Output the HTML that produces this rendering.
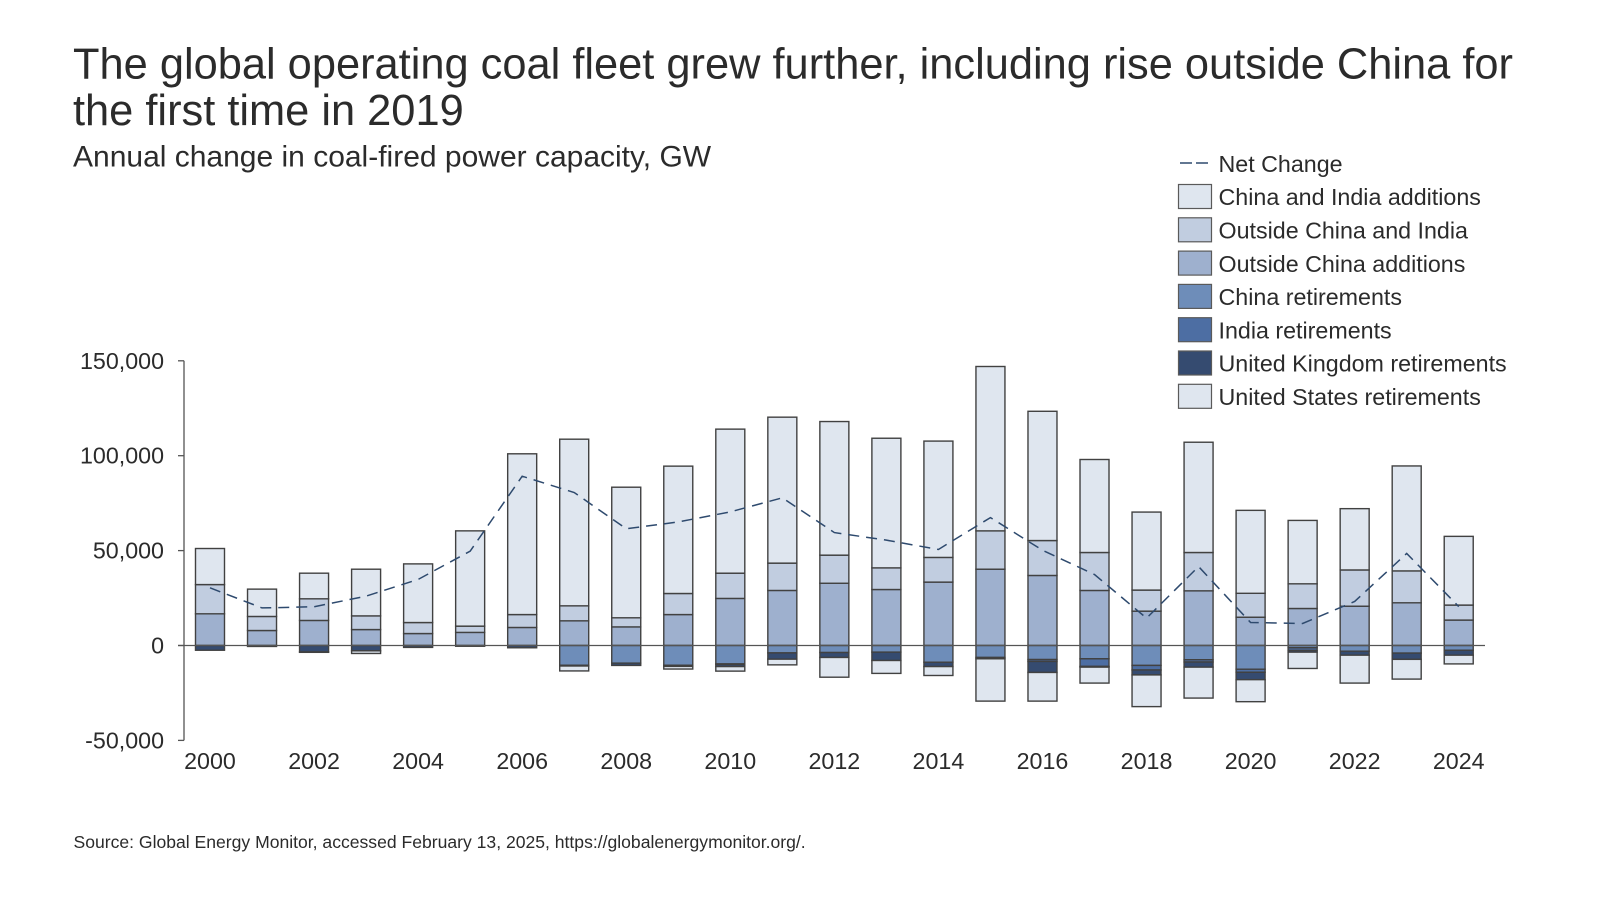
<!DOCTYPE html>
<html lang="en">
<head>
<meta charset="utf-8">
<title>Global operating coal fleet</title>
<style>
html,body{margin:0;padding:0;background:#fff;width:1600px;height:900px;overflow:hidden}
svg{display:block}
text{font-family:"Liberation Sans",sans-serif;fill:#2b2b2b}
</style>
</head>
<body>
<svg id="chart" width="1600" height="900" viewBox="0 0 1600 900" xmlns="http://www.w3.org/2000/svg">
  <rect width="1600" height="900" fill="#fff"/>
  <text x="73" y="78.5" font-size="43.4">The global operating coal fleet grew further, including rise outside China for</text>
  <text x="73" y="124.8" font-size="43.4">the first time in 2019</text>
  <text x="73" y="166.5" font-size="30">Annual change in coal-fired power capacity, GW</text>
  <text x="73.5" y="848" font-size="17.57">Source: Global Energy Monitor, accessed February 13, 2025, https://globalenergymonitor.org/.</text>
  <g id="bars"></g>
  <g id="axes"></g>
  <g id="net"></g>
  <g id="legend"></g>
</svg>
<script>
const years = [2000,2001,2002,2003,2004,2005,2006,2007,2008,2009,2010,2011,2012,2013,2014,2015,2016,2017,2018,2019,2020,2021,2022,2023,2024];
const outsideChinaAdditions = [16700,7900,13200,8400,6300,6900,9500,13000,9800,16300,24800,29000,32800,29500,33400,40200,36900,29000,18100,28800,14900,19500,20700,22500,13400];
const outsideChinaAndIndia = [15400,7400,11400,7200,5800,3300,6800,7900,4800,11100,13300,14400,14800,11400,13000,20200,18400,20000,11100,20200,12600,13000,19100,16800,7900];
const chinaAndIndiaAdditions = [19000,14400,13500,24600,30900,50200,84700,87800,68800,67100,75900,76900,70400,68300,61300,86600,68100,49000,41100,58100,43700,33400,32300,55300,36200];
const chinaRetirements = [0,0,0,0,0,0,0,10400,9300,10400,9700,3900,3700,3500,8800,6300,7400,7000,10500,7500,12500,1200,3000,4000,2500];
const indiaRetirements = [0,0,0,0,0,0,0,0,0,300,300,0,0,0,0,0,1000,4000,2400,1200,1600,1400,0,0,0];
const ukRetirements = [2500,500,3400,2800,1000,400,1200,400,1200,300,1100,3300,2600,4400,2300,700,5800,400,2600,2700,3900,900,2100,3300,2600];
const usRetirements = [0,0,200,1400,0,0,0,2600,0,1400,2400,3000,10400,6800,4700,22300,15100,8400,16700,16300,11600,8600,14700,10400,4600];
const netChange = [30400,19800,20400,26000,34800,49700,89200,80600,61500,65100,70400,77800,59500,55500,50600,67400,50200,37400,14400,41600,12100,11600,23200,48500,20500];
const yTicks = [150000,100000,50000,0,-50000];
const xTickLabels = [2000,2002,2004,2006,2008,2010,2012,2014,2016,2018,2020,2022,2024];
const legendLabels = ["China and India additions","Outside China and India","Outside China additions","China retirements","India retirements","United Kingdom retirements","United States retirements"];

const NS = "http://www.w3.org/2000/svg";
const COLORS = ["#dfe6ef","#c1cde0","#9eb0ce","#6e8db9","#4d6ea3","#354b70","#dfe6ef"];
const STROKE = "#414141";
const LINE = "#2e4a6e";

const xScale = y => 210 + (y - 2000) * 52.03;
const yScale = v => 645.5 - v * 0.001898;
const BAR_W = 29;

function make(tag, attrs, parent) {
  const el = document.createElementNS(NS, tag);
  for (const k in attrs) el.setAttribute(k, attrs[k]);
  parent.appendChild(el);
  return el;
}

const barsG = document.getElementById("bars");
const axesG = document.getElementById("axes");
const netG = document.getElementById("net");
const legendG = document.getElementById("legend");

function segment(year, from, to, color, name) {
  if (from === to) return;
  const top = Math.min(yScale(from), yScale(to));
  const h = Math.abs(yScale(from) - yScale(to));
  const r = make("rect", {x: xScale(year) - BAR_W / 2, y: top, width: BAR_W, height: h, fill: color, stroke: STROKE, "stroke-width": 1.4}, barsG);
  
  
}

years.forEach((yr, i) => {
  let up = 0;
  [[outsideChinaAdditions, 2, "outside-china-additions"], [outsideChinaAndIndia, 1, "outside-china-and-india"], [chinaAndIndiaAdditions, 0, "china-and-india-additions"]].forEach(s => {
    const next = up + s[0][i];
    segment(yr, up, next, COLORS[s[1]], s[2]);
    up = next;
  });
  let down = 0;
  [[chinaRetirements, 3, "china-retirements"], [indiaRetirements, 4, "india-retirements"], [ukRetirements, 5, "uk-retirements"], [usRetirements, 6, "us-retirements"]].forEach(s => {
    const next = down - s[0][i];
    segment(yr, down, next, COLORS[s[1]], s[2]);
    down = next;
  });
});

const yAxis = make("line", {x1: 184, x2: 184, y1: yScale(yTicks[0]), y2: yScale(yTicks[yTicks.length - 1]), stroke: "#555", "stroke-width": 1.3}, axesG);



const zeroLine = make("line", {x1: 178, x2: 1485, y1: yScale(0), y2: yScale(0), stroke: "#555", "stroke-width": 1.3}, axesG);



yTicks.forEach(t => {
  const tick = make("line", {x1: 178, x2: 184, y1: yScale(t), y2: yScale(t), stroke: "#555", "stroke-width": 1.3}, axesG);
  
  
  const lab = make("text", {x: 164, y: yScale(t) + 8, "text-anchor": "end", "font-size": 23.25}, axesG);
  
  
  lab.textContent = (t < 0 ? "-" : "") + Math.abs(t).toLocaleString("en-US");
});

xTickLabels.forEach(y => {
  const lab = make("text", {x: xScale(y), y: 769, "text-anchor": "middle", "font-size": 23.25}, axesG);
  
  
  lab.textContent = y;
});

const netLine = make("polyline", {points: years.map((y, i) => xScale(y) + "," + yScale(netChange[i])).join(" "), fill: "none", stroke: LINE, "stroke-width": 1.5, "stroke-dasharray": "11 7"}, netG);



const legendDash = make("line", {x1: 1180, x2: 1208, y1: 163, y2: 163, stroke: LINE, "stroke-width": 1.5, "stroke-dasharray": "12 4"}, legendG);



const legendNet = make("text", {x: 1218.5, y: 172, "font-size": 23.25}, legendG);


legendNet.textContent = "Net Change";

legendLabels.forEach((label, i) => {
  const y = 184.5 + i * 33.3;
  const sw = make("rect", {x: 1178.5, y: y, width: 33, height: 24, fill: COLORS[i], stroke: "#5a5a5a", "stroke-width": 1.2}, legendG);
  
  
  const t = make("text", {x: 1218.5, y: y + 20.7, "font-size": 23.25}, legendG);
  
  
  t.textContent = label;
});
</script>
</body>
</html>
